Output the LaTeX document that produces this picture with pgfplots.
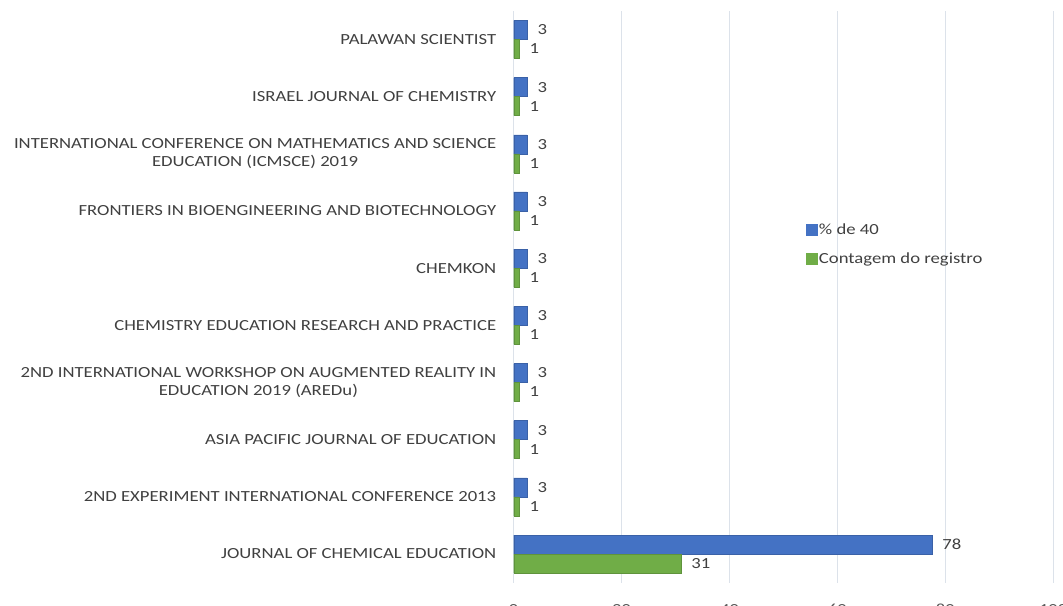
\documentclass[border=0pt]{standalone}
\usepackage{fontspec}
\setmainfont{Carlito}[FakeStretch=1.21]
\usepackage{pgfplots}
\pgfplotsset{compat=1.18}
\usepackage{pgfplotstable}
\definecolor{barblue}{HTML}{4472C4}
\definecolor{bargreen}{HTML}{70AD47}
\definecolor{gridc}{HTML}{DCE2EA}
\definecolor{txt}{HTML}{404040}
\definecolor{ticktxt}{HTML}{595959}
\pgfplotstableread{
c v lab
0 77.5 78
1 2.5 3
2 2.5 3
3 2.5 3
4 2.5 3
5 2.5 3
6 2.5 3
7 2.5 3
8 2.5 3
9 2.5 3
}\pct
\pgfplotstableread{
c v lab
0 31 31
1 1 1
2 1 1
3 1 1
4 1 1
5 1 1
6 1 1
7 1 1
8 1 1
9 1 1
}\cnt
\begin{document}
\begin{tikzpicture}
\useasboundingbox (0bp,0bp) rectangle (1063bp,606bp);
\clip (0bp,0bp) rectangle (1063bp,606bp);
\begin{axis}[
  at={(513.7bp,23.4bp)}, anchor=south west,
  scale only axis, width=539.5bp, height=571.7bp,
  xbar, bar width=19bp,
  xmin=0, xmax=100, ymin=-0.5, ymax=9.5,
  xtick={0,20,...,100},
  ytick={0,...,9},
  yticklabels={
    {JOURNAL OF CHEMICAL EDUCATION},
    {2ND EXPERIMENT INTERNATIONAL CONFERENCE 2013},
    {ASIA PACIFIC JOURNAL OF EDUCATION},
    {2ND INTERNATIONAL WORKSHOP ON AUGMENTED REALITY IN\\EDUCATION 2019 (AREDu)},
    {CHEMISTRY EDUCATION RESEARCH AND PRACTICE},
    {CHEMKON},
    {FRONTIERS IN BIOENGINEERING AND BIOTECHNOLOGY},
    {INTERNATIONAL CONFERENCE ON MATHEMATICS AND SCIENCE\\EDUCATION (ICMSCE) 2019},
    {ISRAEL JOURNAL OF CHEMISTRY},
    {PALAWAN SCIENTIST}},
  yticklabel style={font=\fontsize{15.5}{18}\selectfont, text=txt, align=center, xshift=-14bp},
  xticklabel style={font=\fontsize{15.5}{18}\selectfont, text=ticktxt, yshift=-18bp},
  /pgf/number format/assume math mode=true,
  major tick length=0pt,
  xmajorgrids, grid style={gridc, line width=0.8bp},
  axis x line*=bottom, axis y line*=left,
  x axis line style={draw=none},
  y axis line style={draw=gridc, line width=0.8bp},
  nodes near coords,
  point meta=explicit symbolic,
  every node near coord/.append style={font=\fontsize{15.5}{18}\selectfont, text=txt, anchor=west, xshift=7bp},
  legend style={draw=none, fill=none, at={(0.536,0.634)}, anchor=north west,
    font=\fontsize{15.5}{18}\selectfont, text=txt, row sep=14bp,
    nodes={inner sep=1.5bp}},
  legend cell align=left,
]
\addplot[fill=barblue, draw=barblue!85!black, bar shift=9.5bp,
  legend image code/.code={\fill[barblue] (0bp,-5.5bp) rectangle (11bp,5.5bp);}]
  table[x=v, y=c, meta=lab] {\pct};
\addlegendentry{\% de 40}
\addplot[fill=bargreen, draw=bargreen!85!black, bar shift=-9.5bp,
  legend image code/.code={\fill[bargreen] (0bp,-5.5bp) rectangle (11bp,5.5bp);}]
  table[x=v, y=c, meta=lab] {\cnt};
\addlegendentry{Contagem do registro}
\end{axis}
\end{tikzpicture}
\end{document}
